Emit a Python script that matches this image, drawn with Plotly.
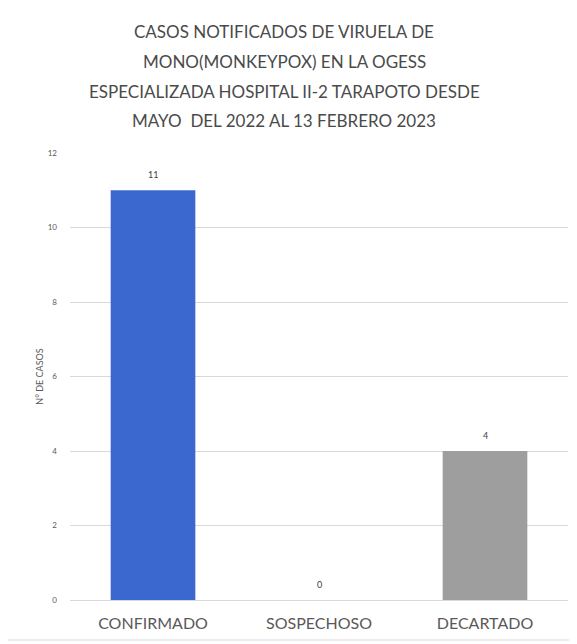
import plotly.graph_objects as go

categories = ["CONFIRMADO", "SOSPECHOSO", "DECARTADO"]
values = [11, 0, 4]
bar_colors = ["#3b68cf", "#9e9e9e", "#9e9e9e"]
y_ticks = [0, 2, 4, 6, 8, 10, 12]

title_lines = [
    "CASOS NOTIFICADOS DE VIRUELA DE",
    "MONO(MONKEYPOX) EN LA OGESS",
    "ESPECIALIZADA HOSPITAL II-2 TARAPOTO DESDE",
    "MAYO  DEL 2022 AL 13 FEBRERO 2023",
]

fig = go.Figure()
fig.add_trace(go.Bar(
    x=categories,
    y=values,
    marker=dict(color=bar_colors, line=dict(width=0)),
    width=0.51,
))

annotations = []
# title as separate lines to match the wide line spacing
for i, line in enumerate(title_lines):
    annotations.append(dict(
        text=line, xref="paper", yref="paper",
        x=0.43, y=1.2707 - i * 0.0660,
        xanchor="center", yanchor="middle", showarrow=False,
        font=dict(size=17, color="#4a4a4a", family="Lato"),
    ))
# value labels above bars
for cat, v in zip(categories, values):
    annotations.append(dict(
        text=str(v), x=cat, y=v, xref="x", yref="y",
        xanchor="center", yanchor="bottom", yshift=8, showarrow=False,
        font=dict(size=9, color="#404040", family="Lato"),
    ))

fig.update_layout(
    width=577,
    height=644,
    margin=dict(l=62, r=17, t=145, b=52),
    paper_bgcolor="white",
    plot_bgcolor="white",
    showlegend=False,
    font=dict(family="Lato", color="#595959"),
    annotations=annotations,
    xaxis=dict(
        showgrid=False,
        showline=True,
        linecolor="#d9d9d9",
        linewidth=1,
        tickfont=dict(size=16, color="#595959", family="Lato"),
        ticks="",
        ticklabelstandoff=9,
    ),
    yaxis=dict(
        range=[0, 12],
        tickvals=y_ticks,
        showgrid=True,
        gridcolor="#d9d9d9",
        gridwidth=1,
        zeroline=False,
        showline=False,
        ticks="",
        tickfont=dict(size=8, color="#595959", family="Lato"),
        ticklabelstandoff=12,
        title=dict(text="N° DE CASOS", font=dict(size=9, color="#595959", family="Lato"), standoff=2),
    ),
    shapes=[
        dict(type="rect", xref="paper", yref="paper",
             x0=-0.1285, x1=1.012, y0=-0.0895, y1=1.329,
             line=dict(color="#d9d9d9", width=1), fillcolor="rgba(0,0,0,0)", layer="below"),
    ],
)

fig.write_html("out.html")
